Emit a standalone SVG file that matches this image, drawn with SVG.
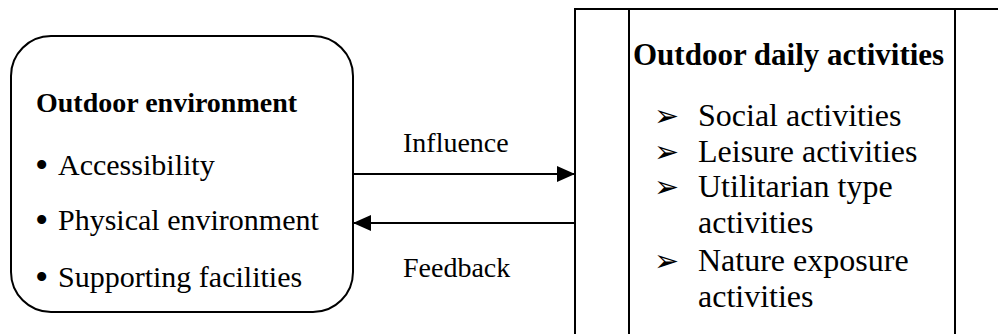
<svg xmlns="http://www.w3.org/2000/svg" width="998" height="334" viewBox="0 0 998 334">
<style>
.ln{fill:none;stroke:#000;stroke-width:2}
.t{font-family:"Liberation Serif","Times New Roman",serif;fill:#000}
.h{font-weight:bold}
.d{font-family:"Liberation Serif","Times New Roman",serif;fill:#000;font-size:38px}
.b{font-family:"DejaVu Sans",sans-serif;fill:#000;font-size:30px}
</style>
<defs>
<marker id="ah" viewBox="0 0 18 16" refX="18" refY="8" markerWidth="18" markerHeight="16" markerUnits="userSpaceOnUse" orient="auto">
<path d="M0,0 L18,8 L0,16 Z" fill="#000"/>
</marker>
</defs>
<rect width="998" height="334" fill="#fff"/>
<g id="outdoor-environment">
<rect class="ln" x="11" y="36" width="342" height="276" rx="40" ry="40"/>
<text class="t h" x="36" y="112" font-size="28">Outdoor environment</text>
<text class="d" x="35" y="178">•</text>
<text class="t" x="58" y="175" font-size="30">Accessibility</text>
<text class="d" x="35" y="233">•</text>
<text class="t" x="58" y="230" font-size="30">Physical environment</text>
<text class="d" x="35" y="290">•</text>
<text class="t" x="58" y="287" font-size="30">Supporting facilities</text>
</g>
<g id="outdoor-daily-activities">
<path class="ln" d="M575,334 V9 H998 M629,9 V334 M955,9 V334"/>
<text class="t h" x="633" y="65" font-size="31">Outdoor daily activities</text>
<text class="b" x="654" y="126">➢</text>
<text class="t" x="698" y="126" font-size="32">Social activities</text>
<text class="b" x="654" y="162">➢</text>
<text class="t" x="698" y="162" font-size="32">Leisure activities</text>
<text class="b" x="654" y="197">➢</text>
<text class="t" x="698" y="197" font-size="32">Utilitarian type</text>
<text class="t" x="698" y="233" font-size="32">activities</text>
<text class="b" x="654" y="271">➢</text>
<text class="t" x="698" y="271" font-size="32">Nature exposure</text>
<text class="t" x="698" y="307" font-size="32">activities</text>
</g>
<g id="connectors">
<line class="ln" x1="353" y1="174" x2="575" y2="174" marker-end="url(#ah)"/>
<line class="ln" x1="575" y1="223" x2="353" y2="223" marker-end="url(#ah)"/>
<text class="t" x="403" y="152" font-size="28">Influence</text>
<text class="t" x="403" y="277" font-size="28">Feedback</text>
</g>
</svg>
